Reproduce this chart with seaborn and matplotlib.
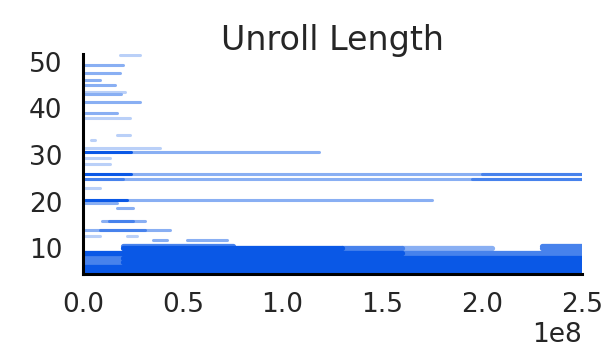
import matplotlib
matplotlib.use("Agg")
import matplotlib.pyplot as plt
import numpy as np
import pandas as pd
import seaborn as sns

# ---------------- data ----------------
title = "Unroll Length"
x_ticks = [0.0, 0.5e8, 1.0e8, 1.5e8, 2.0e8, 2.5e8]
y_ticks = [10, 20, 30, 40, 50]

# sparse horizontal runs of samples (upper part of the chart)
seg_y = [51.4, 49.3, 47.6, 46.1, 45.0, 43.6, 43.0, 41.4, 39.0, 37.9,
         34.3, 33.2, 31.6, 30.6, 30.6, 29.3, 28.0,
         25.9, 24.8, 25.9, 24.8, 25.9, 24.8, 23.0,
         20.4, 20.4, 19.7, 18.6, 15.9, 15.9, 14.0, 14.0,
         12.6, 12.6, 11.8, 11.8]
seg_x0 = [0.185e8, 0.01e8, 0.01e8, 0.01e8, 0.01e8, 0.01e8, 0.01e8, 0.01e8, 0.01e8, 0.01e8,
          0.17e8, 0.04e8, 0.01e8, 0.01e8, 0.01e8, 0.01e8, 0.01e8,
          0.01e8, 0.01e8, 0.01e8, 0.01e8, 2.0e8, 1.95e8, 0.01e8,
          0.01e8, 0.01e8, 0.01e8, 0.17e8, 0.095e8, 0.13e8, 0.01e8, 0.085e8,
          0.01e8, 0.22e8, 0.35e8, 0.52e8]
seg_x1 = [0.285e8, 0.20e8, 0.185e8, 0.085e8, 0.16e8, 0.21e8, 0.19e8, 0.285e8, 0.17e8, 0.235e8,
          0.235e8, 0.06e8, 0.385e8, 1.18e8, 0.24e8, 0.135e8, 0.135e8,
          2.5e8, 2.5e8, 0.24e8, 0.20e8, 2.5e8, 2.5e8, 0.085e8,
          1.75e8, 0.22e8, 0.17e8, 0.25e8, 0.31e8, 0.25e8, 0.435e8, 0.31e8,
          0.085e8, 0.27e8, 0.42e8, 0.72e8]
seg_density = [1, 2, 2, 2, 2, 1, 2, 2, 2, 1,
               1, 1, 1, 2, 4, 1, 1,
               2, 2, 4, 3, 3, 3, 1,
               2, 4, 2, 2, 2, 3, 2, 3,
               1, 1, 2, 2]

# dense block of samples at short unroll lengths
band_y = [4.6, 5, 6, 7, 7, 8, 8, 9, 9, 10, 10, 10, 10, 10.5, 10.6]
band_x0 = [0.0, 0.0, 0.0, 0.0, 0.2e8, 0.0, 0.2e8, 0.0, 1.6e8, 0.2e8, 1.3e8, 1.6e8, 2.3e8, 2.3e8, 0.2e8]
band_x1 = [2.5e8, 2.5e8, 2.5e8, 0.2e8, 2.5e8, 0.2e8, 2.5e8, 1.6e8, 2.5e8, 1.3e8, 1.6e8, 2.05e8, 2.5e8, 2.5e8, 0.75e8]
band_density = [4, 4, 4, 3, 4, 3, 4, 4, 3, 4, 3, 2, 3, 3, 3]


def to_long(ys, x0s, x1s, ds):
    rows = []
    for i, (y, a, b, d) in enumerate(zip(ys, x0s, x1s, ds)):
        rows.append({"seg": i, "x": a, "y": y, "density": d})
        rows.append({"seg": i, "x": b, "y": y, "density": d})
    return pd.DataFrame(rows)


seg_df = to_long(seg_y, seg_x0, seg_x1, seg_density)
band_df = to_long(band_y, band_x0, band_x1, band_density)

# ---------------- style ----------------
sns.set_style("white")
plt.rcParams["font.family"] = ["DejaVu Sans"]

base = np.array(matplotlib.colors.to_rgb("#0a58e6"))
white = np.ones(3)
mix = {1: 0.28, 2: 0.48, 3: 0.75, 4: 1.0}
palette = {k: tuple(white + (base - white) * v) for k, v in mix.items()}

fig = plt.figure(figsize=(6.02, 3.60), dpi=100)
ax = fig.add_axes([83 / 602, 1 - 274 / 360, (582 - 83) / 602, (274 - 54) / 360])

sns.lineplot(data=seg_df, x="x", y="y", units="seg", estimator=None, sort=False,
             hue="density", hue_order=[1, 2, 3, 4], palette=palette,
             linewidth=2.2, legend=False, ax=ax)
sns.lineplot(data=band_df, x="x", y="y", units="seg", estimator=None, sort=False,
             hue="density", hue_order=[1, 2, 3, 4], palette=palette,
             linewidth=3.8, legend=False, ax=ax)

ax.set_xlim(0, 2.5e8)
ax.set_ylim(4.5, 51.65)
ax.set_xticks(x_ticks)
ax.set_yticks(y_ticks)
ax.set_xlabel("")
ax.set_ylabel("")
ax.set_title(title, fontsize=24, pad=3, color="#262626")

sns.despine(ax=ax)
for s in ("left", "bottom"):
    ax.spines[s].set_color("black")
    ax.spines[s].set_linewidth(2.2)

ax.tick_params(axis="both", length=0, labelsize=19, colors="#262626")
ax.tick_params(axis="y", pad=15)
ax.tick_params(axis="x", pad=13)
ax.ticklabel_format(axis="x", style="sci", scilimits=(0, 0))
ax.xaxis.get_offset_text().set_fontsize(19)
ax.xaxis.get_offset_text().set_color("#262626")

fig.savefig("out.png", dpi=100)
